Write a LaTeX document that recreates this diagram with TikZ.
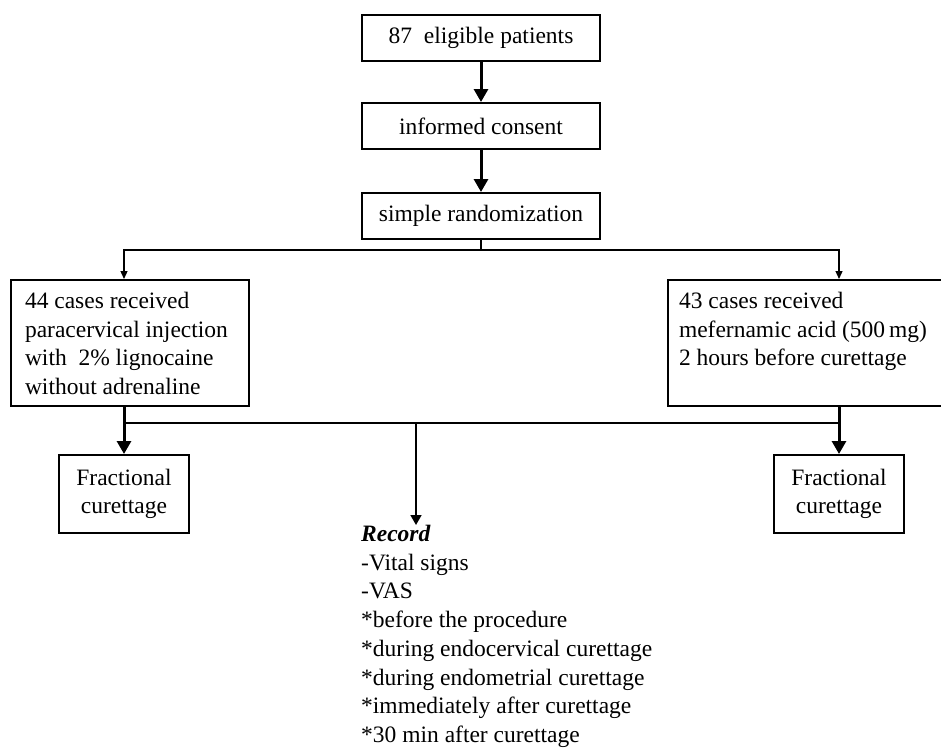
\documentclass[tikz,border=0pt]{standalone}
\usepackage{fontspec}
\setmainfont{Liberation Serif}
\usetikzlibrary{positioning,arrows.meta}

\begin{document}
\begin{tikzpicture}[x=1pt,y=-1pt, font=\fontsize{23.5}{28.7}\selectfont, line join=miter]
				% ===== khung hình =====
				\useasboundingbox (0,0) rectangle (941,752);
				
				% ===== style =====
				\tikzset{
					box/.style={draw=black, line width=2pt},
					topbox/.style={box, minimum width=238pt, minimum height=46pt, inner sep=0pt},
					armbox/.style={box, anchor=north west, align=flush left, minimum height=126pt, inner ysep=8.5pt, text height=20pt, text depth=89pt},
					fracbox/.style={box, align=center, minimum width=130pt, minimum height=78pt, inner sep=0pt},
					link/.style={line width=2pt},
					thinarr/.style={line width=1.3pt, -{Triangle[length=8pt,width=7pt]}},
					midarr/.style={line width=1.7pt, -{Triangle[length=10pt,width=11pt]}},
					fatarr/.style={line width=3pt, -{Triangle[length=13pt,width=14pt]}}
				}
				
				% ===== các hộp trên =====
				\node[topbox] (eligible) at (481,38) {87\ \ eligible patients};
				\node[topbox, below=40pt of eligible] (consent) {informed consent};
				\node[topbox, below=42pt of consent] (random) {simple randomization};
				
				% ===== hai nhóm =====
				\node[armbox, text width=210pt, inner xsep=14pt] (armL) at (10,279) {44 cases received\\paracervical injection\\with\ \ 2\% lignocaine\\without adrenaline};
				\node[armbox, text width=252pt, inner xsep=11pt] (armR) at (667,279) {43 cases received\\mefernamic acid (500\,mg)\\2 hours before curettage};
				
				\node[fracbox] (fracL) at (124,494) {Fractional\\curettage};
				\node[fracbox] (fracR) at (839,494) {Fractional\\curettage};
				
				% ===== ghi nhận =====
				\node[anchor=north west, align=left, inner sep=0pt] (record) at (361,525) {\textbf{\textit{Record}}\\-Vital signs\\-VAS\\*before the procedure\\*during endocervical curettage\\*during endometrial curettage\\*immediately after curettage\\*30 min after curettage};
				
				% ===== mũi tên =====
				\draw[fatarr] (eligible) -- (consent);
				\draw[fatarr] (consent) -- (random);
				
				\coordinate (split) at (random.south |- 0,250);
				\coordinate (merge) at (416,423);
				\draw[link] (random) -- (split);
				\foreach \f/\a in {fracL/armL, fracR/armR}{
					\draw[thinarr] (split) -| (\f.north |- \a.north);
					\draw[fatarr] (\f.north |- \a.south) -- (\f);
				}
				\draw[link] (fracL.north |- merge) -- (fracR.north |- merge);
				\draw[midarr] (merge) -- (merge |- record.north);
			\end{tikzpicture}
\end{document}
